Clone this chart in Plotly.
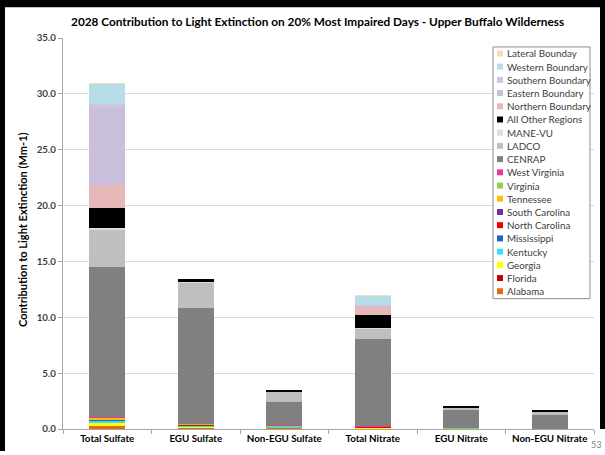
import plotly.graph_objects as go

categories = ["Total Sulfate", "EGU Sulfate", "Non-EGU Sulfate",
              "Total Nitrate", "EGU Nitrate", "Non-EGU Nitrate"]

# series in stacking order (bottom -> top)
alabama        = [0.30, 0.10, 0.12, 0.05, 0.01, 0.01]
florida        = [0.05, 0.01, 0.01, 0.01, 0.00, 0.00]
georgia        = [0.15, 0.12, 0.03, 0.04, 0.01, 0.01]
kentucky       = [0.25, 0.10, 0.03, 0.05, 0.01, 0.01]
mississippi    = [0.10, 0.02, 0.01, 0.02, 0.00, 0.00]
north_carolina = [0.02, 0.01, 0.00, 0.01, 0.00, 0.00]
south_carolina = [0.02, 0.01, 0.00, 0.00, 0.00, 0.00]
tennessee      = [0.12, 0.05, 0.05, 0.03, 0.01, 0.01]
virginia       = [0.03, 0.05, 0.08, 0.05, 0.01, 0.00]
west_virginia  = [0.02, 0.02, 0.02, 0.01, 0.00, 0.00]
cenrap         = [13.44, 10.31, 2.05, 7.83, 1.61, 1.18]
ladco          = [3.40, 2.30, 0.95, 0.90, 0.27, 0.32]
mane_vu        = [0.05, 0.02, 0.02, 0.02, 0.01, 0.01]
all_other      = [1.85, 0.30, 0.08, 1.15, 0.14, 0.12]
northern       = [2.00, 0.00, 0.00, 0.80, 0.00, 0.00]
eastern        = [7.00, 0.00, 0.00, 0.10, 0.00, 0.00]
southern       = [0.30, 0.00, 0.00, 0.05, 0.00, 0.00]
western        = [1.80, 0.00, 0.00, 0.80, 0.00, 0.00]
lateral        = [0.03, 0.00, 0.00, 0.02, 0.00, 0.00]

series = [
    ("Alabama", alabama, "#E46C0A"),
    ("Florida", florida, "#C00000"),
    ("Georgia", georgia, "#FFFF00"),
    ("Kentucky", kentucky, "#33E3F5"),
    ("Mississippi", mississippi, "#1F62D0"),
    ("North Carolina", north_carolina, "#EE0000"),
    ("South Carolina", south_carolina, "#7030A0"),
    ("Tennessee", tennessee, "#FFC000"),
    ("Virginia", virginia, "#92D050"),
    ("West Virginia", west_virginia, "#E6399B"),
    ("CENRAP", cenrap, "#808080"),
    ("LADCO", ladco, "#BFBFBF"),
    ("MANE-VU", mane_vu, "#DDDDDD"),
    ("All Other Regions", all_other, "#000000"),
    ("Northern Boundary", northern, "#E6B9B8"),
    ("Eastern Boundary", eastern, "#C9BEDB"),
    ("Southern Boundary", southern, "#CFC5DE"),
    ("Western Boundary", western, "#B7DDE8"),
    ("Lateral Bounday", lateral, "#F5DDBA"),
]

W, H = 605, 455
ML, MR, MT, MB = 63, 11, 38, 24
PW, PH = W - ML - MR, H - MT - MB


def px(x):
    return (x - ML) / PW


def py(y):
    return 1 - (y - MT) / PH


FONT = "Lato"
fig = go.Figure()
for name, vals, col in series:
    fig.add_trace(go.Bar(x=categories, y=vals, name=name,
                         marker=dict(color=col, line=dict(width=0)),
                         showlegend=False))

shapes = []
annotations = []

# slide frame (black border)
for (x0, x1, y0, y1) in [(-5, 5, -5, 453), (-5, 610, -5, 7), (600, 610, -5, 431)]:
    shapes.append(dict(type="rect", xref="paper", yref="paper",
                       x0=px(x0), x1=px(x1), y0=py(y1), y1=py(y0),
                       line=dict(width=0), fillcolor="black", layer="above"))

# manual legend
lx0, lx1, ly0, ly1 = 493, 590, 47, 300
shapes.append(dict(type="rect", xref="paper", yref="paper",
                   x0=px(lx0), x1=px(lx1), y0=py(ly1), y1=py(ly0),
                   line=dict(color="#8C8C8C", width=1), fillcolor="white",
                   layer="above"))
legend_items = list(reversed(series))
step = 13.28
for i, (name, vals, col) in enumerate(legend_items):
    yc = 53.5 + i * step
    shapes.append(dict(type="rect", xref="paper", yref="paper",
                       x0=px(497), x1=px(503), y0=py(yc + 3), y1=py(yc - 3),
                       line=dict(width=0), fillcolor=col, layer="above"))
    annotations.append(dict(text=name, xref="paper", yref="paper",
                            x=px(505), y=py(yc), xanchor="left", yanchor="middle",
                            showarrow=False,
                            font=dict(family=FONT, size=9.8, color="#404040")))

annotations.append(dict(text="Contribution to Light Extinction (Mm-1)",
                        xref="paper", yref="paper", x=px(22), y=py(231),
                        textangle=-90, showarrow=False,
                        xanchor="center", yanchor="middle",
                        font=dict(family=FONT, size=11, color="black", weight="bold")))
annotations.append(dict(text="53", xref="paper", yref="paper",
                        x=px(596), y=py(447), showarrow=False,
                        xanchor="center", yanchor="middle",
                        font=dict(family=FONT, size=9, color="#808080")))

fig.update_layout(
    width=W, height=H,
    margin=dict(l=ML, r=MR, t=MT, b=MB, pad=0),
    barmode="stack", bargap=0.59,
    paper_bgcolor="white", plot_bgcolor="white",
    title=dict(text="<b>2028 Contribution to Light Extinction on 20% Most Impaired Days - Upper Buffalo Wilderness</b>",
               x=0.525, xanchor="center", y=1 - 22 / H, yanchor="middle",
               font=dict(family=FONT, size=11.8, color="black")),
    font=dict(family=FONT),
    shapes=shapes, annotations=annotations,
    xaxis=dict(showline=True, linecolor="#A6A6A6", linewidth=1,
               ticks="outside", tickson="boundaries", ticklen=4, tickcolor="#A6A6A6",
               tickfont=dict(family=FONT, size=9.8, color="black", weight="bold"),
               showgrid=False),
    yaxis=dict(range=[0, 35], dtick=5, tickformat=".1f",
               showline=True, linecolor="#A6A6A6", linewidth=1,
               ticks="outside", ticklen=4, tickcolor="#A6A6A6",
               gridcolor="#D9D9D9", gridwidth=1, zeroline=False,
               tickfont=dict(family=FONT, size=9.8, color="#404040", weight="bold")),
)

fig.write_html("out.html",
               config={"displayModeBar": False},
               post_script="document.body.style.margin='0';document.body.style.overflow='hidden';")
